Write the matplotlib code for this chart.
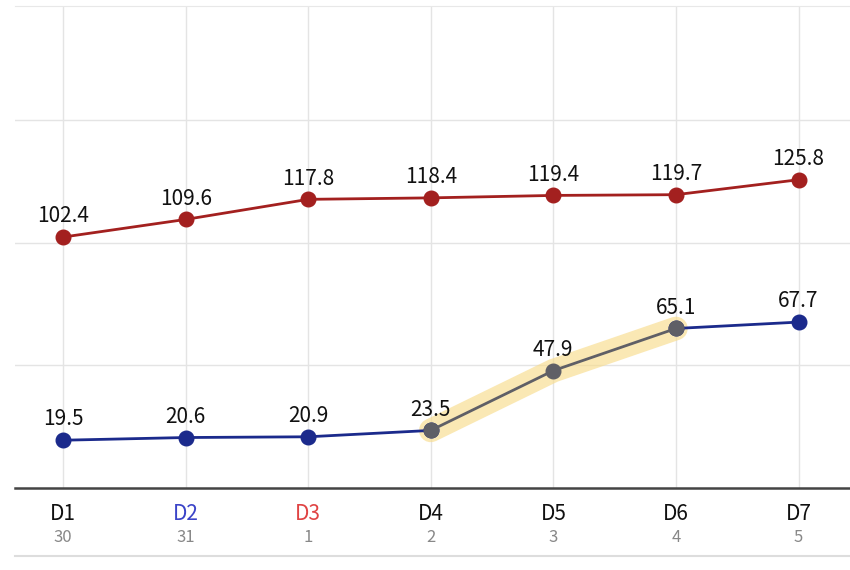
import matplotlib
matplotlib.use('Agg')
import matplotlib.pyplot as plt
from matplotlib.lines import Line2D

# data
days = ['D1', 'D2', 'D3', 'D4', 'D5', 'D6', 'D7']
dates = ['30', '31', '1', '2', '3', '4', '5']
day_colors = ['#111111', '#3b44c8', '#e04444', '#111111', '#111111', '#111111', '#111111']
upper = [102.4, 109.6, 117.8, 118.4, 119.4, 119.7, 125.8]
lower = [19.5, 20.6, 20.9, 23.5, 47.9, 65.1, 67.7]
hl_start, hl_end = 3, 5  # highlighted stretch of the lower series (D4..D6)

plt.rcParams['font.family'] = ['Noto Sans CJK KR', 'DejaVu Sans']

fig = plt.figure(figsize=(8.5, 5.7), dpi=100)
ax = fig.add_axes([15 / 850, 1 - 488 / 570, 835 / 850, 482 / 570])

x = list(range(len(days)))

# grid
ax.set_ylim(0, 196.7)
ax.set_xlim(-0.392, 6.42)
ax.set_yticks([50, 100, 150])
ax.set_xticks(x)
ax.grid(True, color='#e4e4e4', linewidth=1)
ax.tick_params(length=0, labelbottom=False, labelleft=False)
for side in ['left', 'right']:
    ax.spines[side].set_visible(False)
ax.spines['top'].set_color('#e8e8e8')
ax.spines['bottom'].set_color('#444444')
ax.spines['bottom'].set_linewidth(1.8)

# upper series
ax.plot(x, upper, color='#a3201f', linewidth=2, marker='o', markersize=10.5, zorder=3)

# lower series
ax.plot(x[:hl_start + 1], lower[:hl_start + 1], color='#1b2a8c', linewidth=2,
        marker='o', markersize=10.5, zorder=3)
ax.plot(x[hl_end:], lower[hl_end:], color='#1b2a8c', linewidth=2,
        marker='o', markersize=10.5, zorder=3)

# highlighted stretch
hx = x[hl_start:hl_end + 1]
hy = lower[hl_start:hl_end + 1]
ax.plot(hx, hy, color='#f8dc8c', alpha=0.65, linewidth=17, solid_capstyle='round', zorder=2)
ax.plot(hx, hy, color='#5f5f66', linewidth=2, marker='o', markersize=10.5, zorder=4)

# value labels
for xi, v in zip(x, upper):
    ax.annotate(f'{v}', (xi, v), xytext=(0, 7), textcoords='offset points',
                ha='center', va='bottom', fontsize=15, fontweight='medium',
                color='#111111', zorder=5)
for xi, v in zip(x, lower):
    ax.annotate(f'{v}', (xi, v), xytext=(0, 7), textcoords='offset points',
                ha='center', va='bottom', fontsize=15, fontweight='medium',
                color='#111111', zorder=5)

# two-line x labels
trans = ax.get_xaxis_transform()
for xi, d, dt, c in zip(x, days, dates, day_colors):
    ax.text(xi, -0.054, d, transform=trans, ha='center', va='center',
            fontsize=15, fontweight='medium', color=c)
    ax.text(xi, -0.102, dt, transform=trans, ha='center', va='center',
            fontsize=12, color='#888888')

# light rule under the labels
fig.add_artist(Line2D([15 / 850, 1], [1 - 556 / 570, 1 - 556 / 570],
                      color='#dddddd', linewidth=1.5))

fig.savefig('out.png', dpi=100, facecolor='white')
